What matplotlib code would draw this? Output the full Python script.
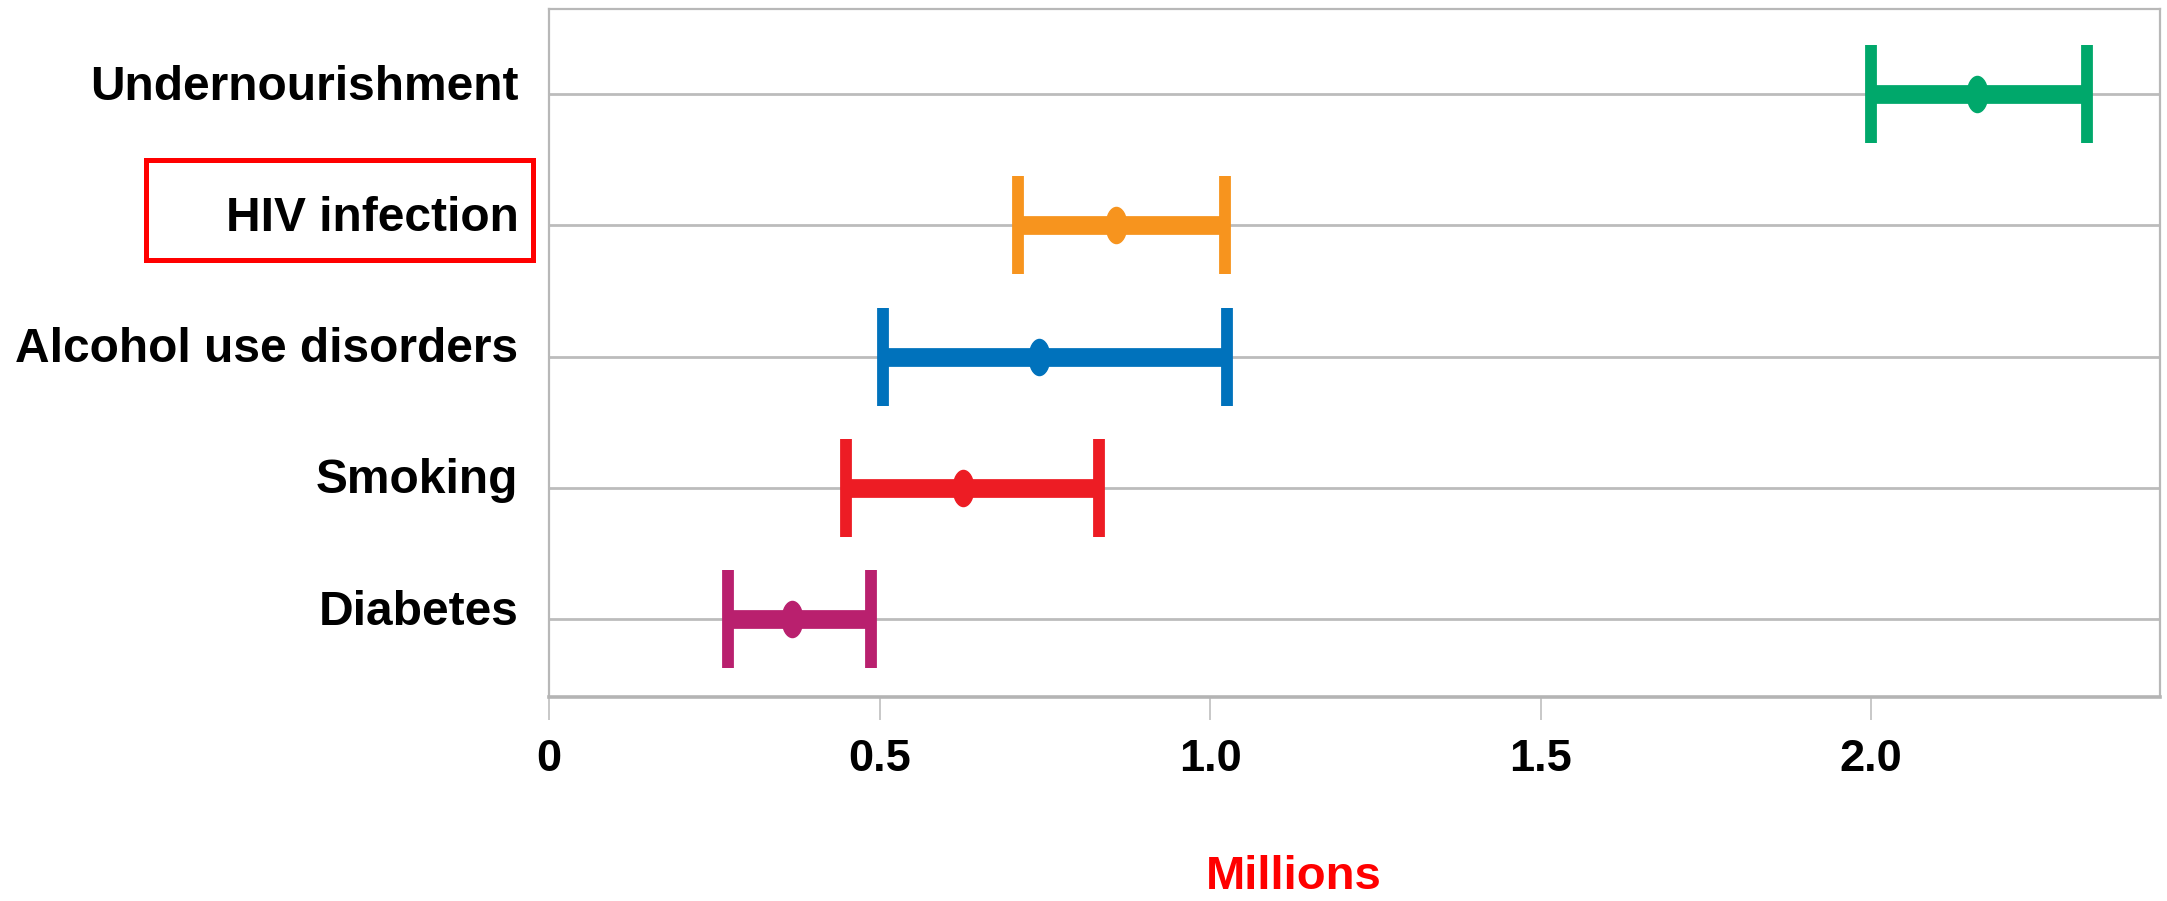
import matplotlib
matplotlib.use("Agg")
import matplotlib.pyplot as plt
from matplotlib.path import Path
from matplotlib.transforms import Affine2D, offset_copy
from matplotlib.patches import Rectangle

plt.rcParams['font.family'] = ['Liberation Sans', 'DejaVu Sans']
plt.rcParams['font.weight'] = 'bold'

# ---- data (millions) ----
categories = ["Diabetes", "Smoking", "Alcohol use disorders", "HIV infection", "Undernourishment"]
best = [0.367, 0.627, 0.741, 0.857, 2.16]
low = [0.271, 0.450, 0.506, 0.709, 2.00]
high = [0.487, 0.832, 1.026, 1.023, 2.327]
colors = ["#B9206E", "#ED1C24", "#0072BC", "#F7941E", "#00A86B"]
xticks = [0, 0.5, 1.0, 1.5, 2.0]
xticklabels = ["0", "0.5", "1.0", "1.5", "2.0"]
xlabel = "Millions"

W, H = 2167, 901
dpi = 100
fig = plt.figure(figsize=(W / dpi, H / dpi), dpi=dpi)
ax = fig.add_axes([549 / W, 1 - 697 / H, (2160 - 549) / W, (697 - 9) / H])

ellipse = Path.unit_circle().transformed(Affine2D().scale(20 / 35, 1.0))

for i, (c, lo, hi, col) in enumerate(zip(best, low, high, colors)):
    ax.errorbar([c], [i], xerr=[[c - lo], [hi - c]], fmt='none', ecolor=col,
                elinewidth=13.5, capsize=35, capthick=8.5, zorder=3)
    ax.plot([c], [i], marker=ellipse, markersize=26, color=col,
            linestyle='none', zorder=4)

ax.set_xlim(0, 2.437)
ax.set_ylim(-0.594, 4.648)

ax.set_yticks(range(len(categories)))
ax.set_yticklabels(categories, fontsize=34.5, fontweight='bold')
ax.tick_params(axis='y', length=0, pad=22)
for lab in ax.get_yticklabels():
    lab.set_transform(offset_copy(lab.get_transform(), fig=fig, x=0, y=12, units='dots'))

ax.set_xticks(xticks)
ax.set_xticklabels(xticklabels, fontsize=32.5, fontweight='bold')
ax.tick_params(axis='x', direction='out', length=16.5, width=1.4, color='#c8c8c8', pad=14)

ax.yaxis.grid(True, color='#bcbcbc', linewidth=2.0)
ax.xaxis.grid(False)
ax.set_axisbelow(True)

for side in ['left', 'top', 'right']:
    ax.spines[side].set_color('#b8b8b8')
    ax.spines[side].set_linewidth(1.6)
ax.spines['bottom'].set_color('#b4b4b4')
ax.spines['bottom'].set_linewidth(2.6)

fig.text(1294 / W, 2 / H, xlabel, color='#FF0000', fontsize=34, fontweight='bold',
         ha='center', va='bottom')

# red highlight box around the HIV label
fig.patches.append(Rectangle((145.5 / W, 1 - 259.5 / H), (532.5 - 145.5) / W, 100 / H,
                             transform=fig.transFigure, fill=False,
                             edgecolor='#FF0000', linewidth=3.6))

fig.savefig("out.png", dpi=dpi, facecolor='white')
